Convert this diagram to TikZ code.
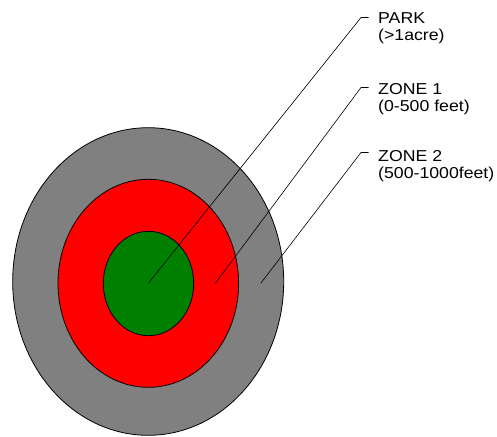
\documentclass[tikz,border=0pt]{standalone}
\usepackage{fontspec}
\setmainfont{Liberation Sans}[FakeStretch=1.12]
\usepackage{xcolor}
\usepackage{tikz}
\usetikzlibrary{positioning,calc}

\definecolor{zonegray}{RGB}{128,128,128}
\definecolor{zonered}{RGB}{255,0,0}
\definecolor{parkgreen}{RGB}{0,128,0}

\begin{document}
\begin{tikzpicture}[
  x=1pt, y=-1pt,
  ring/.style={draw=black, line width=0.8pt},
  leader/.style={draw=black, line width=0.6pt},
  zonelabel/.style={anchor=base west, align=left, inner sep=0pt,
                    font=\fontsize{15.8}{17.5}\selectfont},
]
\useasboundingbox (0,0) rectangle (497,436);

% Rings, outside in
\draw[ring, fill=zonegray] (148.2,281.5) ellipse [x radius=135.5, y radius=153.8];
\draw[ring, fill=zonered] (148.3,283.3) ellipse [x radius=90.3, y radius=104];
\draw[ring, fill=parkgreen] (148.5,283.5) ellipse [x radius=45.2, y radius=52.2];

% Labels on right (base = last line)
\node[zonelabel] (park) at (378,41) {PARK\\(>1acre)};
\node[zonelabel] (zone1) at (378,111.8) {ZONE 1\\(0-500 feet)};
\node[zonelabel] (zone2) at (378,178.8) {ZONE 2\\(500-1000feet)};

% Leader points
\coordinate (parkpt) at (148.3,283.3);
\coordinate (zone1pt) at (215.3,283.3);
\coordinate (zone2pt) at (260.7,283.3);
\coordinate (parkbend) at (361,17.5);
\coordinate (zone1bend) at (361,87.5);
\coordinate (zone2bend) at (361,152.5);

% Leader lines
\draw[leader] (parkpt) -- (parkbend) -- ++(7.5,0);
\draw[leader] (zone1pt) -- (zone1bend) -- ++(7.5,0);
\draw[leader] (zone2pt) -- (zone2bend) -- ++(7.5,0);

\end{tikzpicture}
\end{document}
